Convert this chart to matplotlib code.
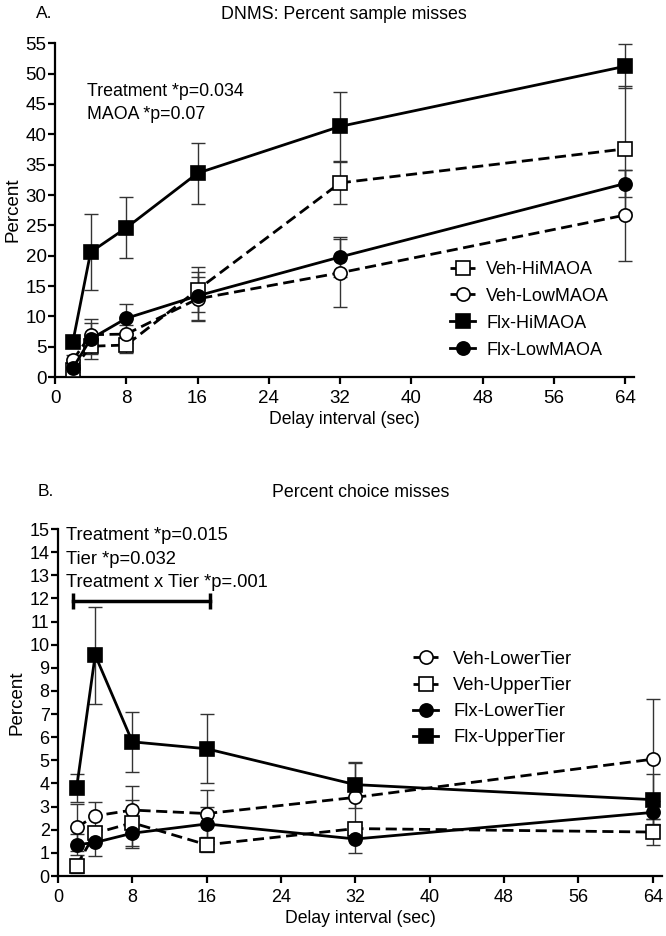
import numpy as np
import matplotlib.pyplot as plt

plt.rcParams['font.family'] = ['Liberation Sans', 'DejaVu Sans']

# delay intervals (sec)
delays = [2, 4, 8, 16, 32, 64]

# Panel A: percent sample misses (mean, sem)
veh_hi = [1.2, 5.1, 5.3, 14.4, 32.0, 37.6]
veh_hi_err = [0.8, 1.2, 1.3, 3.7, 3.5, 10.4]
veh_low = [2.8, 7.0, 7.1, 12.9, 17.2, 26.7]
veh_low_err = [0.8, 2.0, 1.5, 3.6, 5.6, 7.5]
flx_hi = [5.8, 20.6, 24.6, 33.6, 41.3, 51.2]
flx_hi_err = [0.6, 6.2, 5.0, 5.0, 5.7, 3.6]
flx_low = [1.5, 6.3, 9.7, 13.4, 19.8, 31.9]
flx_low_err = [0.7, 3.3, 2.4, 3.9, 3.3, 2.3]

# Panel B: percent choice misses (mean, sem)
veh_lower = [2.1, 2.6, 2.85, 2.7, 3.4, 5.05]
veh_lower_err = [1.0, 0.6, 1.05, 1.0, 1.5, 2.6]
veh_upper = [0.45, 1.85, 2.3, 1.35, 2.05, 1.9]
veh_upper_err = [0.3, 0.3, 1.0, 0.3, 0.3, 0.55]
flx_lower = [1.35, 1.45, 1.85, 2.25, 1.6, 2.75]
flx_lower_err = [0.45, 0.6, 0.65, 0.75, 0.6, 0.5]
flx_upper = [3.8, 9.55, 5.8, 5.5, 3.95, 3.3]
flx_upper_err = [0.6, 2.1, 1.3, 1.5, 1.0, 1.1]


def draw_series(ax, y, err, label, marker, filled, dashed):
    ax.errorbar(delays, y, yerr=err, fmt='none', ecolor='#333333',
                elinewidth=1.0, capsize=5, capthick=1.0, zorder=2)
    ax.plot(delays, y, color='black', lw=2.0,
            linestyle=(0, (4, 2)) if dashed else '-',
            marker=marker, markersize=10 if marker == 's' else 9.5,
            markerfacecolor='black' if filled else 'white',
            markeredgecolor='black', markeredgewidth=1.2,
            label=label, zorder=3)


def style_axes(ax, ymax, ystep, tick_size):
    ax.set_xlim(0, 65)
    ax.set_ylim(0, ymax)
    ax.set_xticks(range(0, 65, 8))
    ax.set_yticks(np.arange(0, ymax + 0.1, ystep))
    for s in ['top', 'right']:
        ax.spines[s].set_visible(False)
    for s in ['left', 'bottom']:
        ax.spines[s].set_linewidth(1.6)
    ax.tick_params(direction='out', length=5, width=1.6, labelsize=tick_size)
    ax.tick_params(axis='x', pad=4)
    ax.tick_params(axis='y', pad=1)
    ax.set_xlabel('Delay interval (sec)', fontsize=12.7, labelpad=3)
    ax.set_ylabel('Percent', fontsize=13.5, labelpad=3)


fig = plt.figure(figsize=(6.66, 9.36), dpi=100)

# ---- Panel A ----
axA = fig.add_axes([0.0826, 0.597, 0.8694, 0.3568])
draw_series(axA, veh_hi, veh_hi_err, 'Veh-HiMAOA', 's', False, True)
draw_series(axA, veh_low, veh_low_err, 'Veh-LowMAOA', 'o', False, True)
draw_series(axA, flx_hi, flx_hi_err, 'Flx-HiMAOA', 's', True, False)
draw_series(axA, flx_low, flx_low_err, 'Flx-LowMAOA', 'o', True, False)
style_axes(axA, 55, 5, 13.5)
axA.text(3.6, 47, 'Treatment *p=0.034', fontsize=12.8, va='center')
axA.text(3.6, 43.2, 'MAOA *p=0.07', fontsize=12.8, va='center')
axA.legend(loc='upper left', bbox_to_anchor=(0.67, 0.37), frameon=False,
           fontsize=13, handlelength=1.4, handletextpad=0.6,
           labelspacing=0.55, borderaxespad=0)
fig.text(0.054, 0.994, 'A.', fontsize=12.5, va='top')
fig.text(0.517, 0.994, 'DNMS: Percent sample misses', fontsize=12.8,
         va='top', ha='center')

# ---- Panel B ----
axB = fig.add_axes([0.0871, 0.0641, 0.907, 0.3707])
draw_series(axB, veh_lower, veh_lower_err, 'Veh-LowerTier', 'o', False, True)
draw_series(axB, veh_upper, veh_upper_err, 'Veh-UpperTier', 's', False, True)
draw_series(axB, flx_lower, flx_lower_err, 'Flx-LowerTier', 'o', True, False)
draw_series(axB, flx_upper, flx_upper_err, 'Flx-UpperTier', 's', True, False)
style_axes(axB, 15, 1, 13)
axB.text(0.9, 14.7, 'Treatment *p=0.015', fontsize=13.2, va='center')
axB.text(0.9, 13.7, 'Tier *p=0.032', fontsize=13.2, va='center')
axB.text(0.9, 12.7, 'Treatment x Tier *p=.001', fontsize=13.2, va='center')
# significance bracket over 2-16 sec
axB.errorbar([1.6, 16.4], [11.9, 11.9], yerr=0.35, color='black',
             lw=2.5, capsize=0, elinewidth=2.5)
axB.legend(loc='upper left', bbox_to_anchor=(0.575, 0.67), frameon=False,
           fontsize=13.2, handlelength=1.4, handletextpad=0.8,
           labelspacing=0.5, borderaxespad=0)
fig.text(0.057, 0.483, 'B.', fontsize=12.5, va='top')
fig.text(0.541, 0.483, 'Percent choice misses', fontsize=12.8,
         va='top', ha='center')

fig.savefig('out.png', dpi=100)
